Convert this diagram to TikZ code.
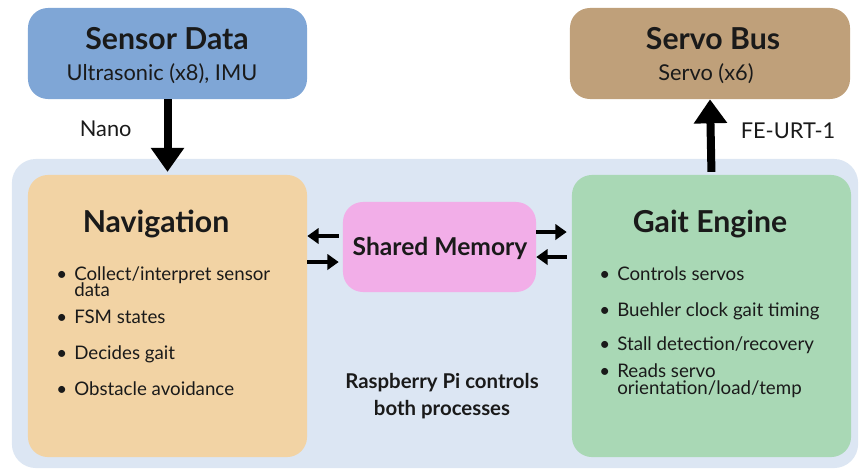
\documentclass[tikz,border=0pt]{standalone}
\usepackage{fontspec}
\setmainfont{Lato}
\usepackage{tikz}
\usetikzlibrary{arrows.meta}

\definecolor{panelbg}{HTML}{DCE6F3}
\definecolor{sensorblue}{HTML}{7FA6D6}
\definecolor{servotan}{HTML}{BFA07A}
\definecolor{navpeach}{HTML}{F2D3A4}
\definecolor{shmpink}{HTML}{F2AEE8}
\definecolor{gaitgreen}{HTML}{A9D8B5}
\definecolor{ink}{HTML}{1A1A1A}

\newcommand{\bul}{\makebox[0.45cm][l]{\textbullet}}

\begin{document}
\begin{tikzpicture}[x=0.025cm, y=-0.025cm,
    box/.style={draw=none, rounded corners=0.5cm, inner sep=0pt},
    title/.style={font=\fontsize{21.5}{25}\selectfont\bfseries, anchor=base, inner sep=0pt, text=ink},
    sub/.style={font=\fontsize{15.5}{18}\selectfont, anchor=base, inner sep=0pt, text=ink},
    item/.style={font=\fontsize{13.3}{15}\selectfont, anchor=base west, inner sep=0pt, text=ink},
    bigarrow/.style={draw=black, line width=0.2cm, -{Triangle[width=0.8cm,length=0.6cm]}},
    smallarrow/.style={draw=black, line width=0.09cm, -{Triangle[width=0.38cm,length=0.28cm]}}]
    \useasboundingbox (0,0) rectangle (860,470);
\node[box, fill=panelbg, rounded corners=0.6cm, minimum width=21.15cm, minimum height=7.725cm] (pi) at (435,313.5) {}; % pi
\node[box, fill=sensorblue, minimum width=6.975cm, minimum height=2.275cm] (sensor) at (167.5,53.5) {}; % sensor
\node[box, fill=servotan, minimum width=7cm, minimum height=2.275cm] (servo) at (710,53.5) {}; % servo
\node[box, fill=navpeach, minimum width=6.975cm, minimum height=7.05cm] (nav) at (167.5,316) {}; % nav
\node[box, fill=shmpink, minimum width=4.825cm, minimum height=2.25cm] (shm) at (439.5,247) {}; % shm
\node[box, fill=gaitgreen, minimum width=6.975cm, minimum height=7.05cm] (gait) at (711.5,316) {}; % gait
\node[title] (sensorT) at (167,49) {Sensor Data}; % sensor
\node[sub] (sensorS) at (162,80) {Ultrasonic (x8), IMU}; % sensor
\node[title] (servoT) at (713,49) {Servo Bus}; % servo
\node[sub] (servoS) at (706,80) {Servo (x6)}; % servo
\node[title] (navT) at (156,232) {Navigation}; % nav
\node[title] (gaitT) at (710,232) {Gait Engine}; % gait
\node[title, font=\fontsize{17.5}{20}\selectfont\bfseries] (shmT) at (440,255) {Shared Memory}; % shm
\node[sub, anchor=center, align=center, font=\fontsize{14.5}{19}\selectfont\bfseries] (piT) at (442,396) {Raspberry Pi controls\\both processes}; % pi
\node[item] (nav1) at (56,280) {\bul Collect/interpret sensor}; % nav
\node[item] (nav1b) at (74,296) {data}; % nav
\node[item] (nav2) at (56,323) {\bul FSM states}; % nav
\node[item] (nav3) at (56,359) {\bul Decides gait}; % nav
\node[item] (nav4) at (56,395) {\bul Obstacle avoidance}; % nav
\node[item] (gait1) at (599,280) {\bul Controls servos}; % gait
\node[item] (gait2) at (599,316) {\bul Buehler clock gait timing}; % gait
\node[item] (gait3) at (599,350) {\bul Stall detection/recovery}; % gait
\node[item] (gait4) at (599,377) {\bul Reads servo}; % gait
\node[item] (gait4b) at (617,394) {orientation/load/temp}; % gait
\draw[bigarrow, shorten >=2pt] (sensor.south) -- (nav.north) node[pos=0.5, sub, anchor=base east, xshift=-0.8cm] (nano) {Nano}; % nano
\draw[bigarrow, shorten <=2pt] (gait.north) -- (servo.south) node[pos=0.48, sub, anchor=base west, xshift=0.65cm] (feurt) {FE-URT-1}; % feurt
\coordinate (shmL1) at ([yshift=0.275cm]shm.west);
\coordinate (shmL2) at ([yshift=-0.375cm]shm.west);
\coordinate (shmR1) at ([yshift=0.375cm]shm.east);
\coordinate (shmR2) at ([yshift=-0.25cm]shm.east);
\draw[smallarrow, shorten <=0.1cm] (shmL1) -- (shmL1 -| nav.east); % shm to nav
\draw[smallarrow, shorten >=0.1cm] (shmL2 -| nav.east) -- (shmL2); % nav to shm
\draw[smallarrow, shorten >=0.125cm] (shmR1) -- (shmR1 -| gait.west); % shm to gait
\draw[smallarrow, shorten <=0.125cm] (shmR2 -| gait.west) -- (shmR2); % gait to shm

    \end{tikzpicture}
\end{document}
